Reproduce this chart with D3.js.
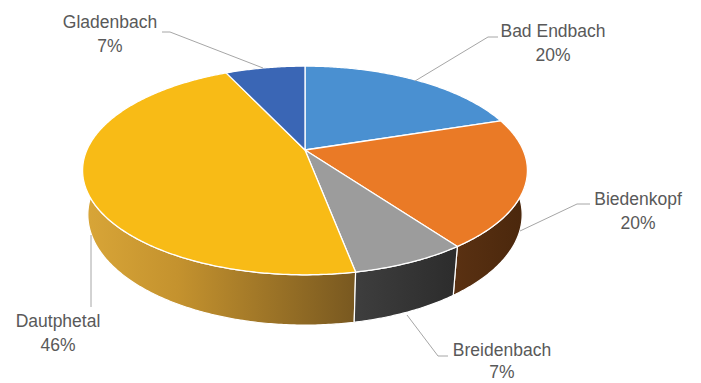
<!DOCTYPE html>
<html><head><meta charset="utf-8">
<script src="https://cdn.jsdelivr.net/npm/d3@7"></script>
<style>html,body{margin:0;padding:0;background:#fff}svg{display:block}</style>
</head><body>
<svg id="c" width="701" height="383"></svg>
<script>
// ---- data ----
const categories = ["Bad Endbach", "Biedenkopf", "Breidenbach", "Dautphetal", "Gladenbach"];
const values = [20, 20, 7, 46, 7];

// ---- styles / layout (not data) ----
const topColors  = ["#4A90D1", "#EA7A26", "#9C9C9C", "#F8BB16", "#3A66B5"];
const wallStops  = [
  [["#2E5E8C",0],["#2A5580",1]],
  [["#5A3112",0],["#4A270C",1]],
  [["#3E3E3E",0],["#2C2C2C",1]],
  [["#D9A638",0],["#C4922E",0.35],["#785820",1]],
  [["#24447A",0],["#1F3C6C",1]]
];
const labelLayout = [
  {x:553, y:37,  dy:24, line:[[498,37],[488,37],[415,81]]},
  {x:638, y:205, dy:24, line:[[590,204],[577,204],[520,231]]},
  {x:502, y:356, dy:22, line:[[448,356],[438,356],[407,315]]},
  {x:58,  y:327, dy:24, line:[[91,307],[91,235]]},
  {x:110, y:28,  dy:24, line:[[162,32],[170,32],[263,68]]}
];

// ---- 3D perspective projection of the pie plane ----
const cx = 305, cy = 150;
const alpha = Math.asin(0.46), sa = Math.sin(alpha), ca = Math.cos(alpha);
const D = 4.53, F = 988, T = 0.23;
function proj(theta, Y, r = 1) {
  const X = r * Math.sin(theta), Z = r * Math.cos(theta);
  const depth = D + Z * ca - Y * sa;
  const up = Y * ca + Z * sa;
  return [cx + F * X / depth, cy - F * up / depth];
}

const svg = d3.select("#c");
const defs = svg.append("defs");
const pie = d3.pie().sort(null).value(d => d)(values);
const total = d3.sum(values);
const pct = d3.format(".0%");

function arcPts(a0, a1, Y) {
  const n = Math.max(2, Math.ceil((a1 - a0) / 0.01));
  return d3.range(n + 1).map(i => proj(a0 + (a1 - a0) * i / n, Y));
}
const line = d3.line();

// walls (back to front)
const walls = pie.map((p, i) => ({p, i}))
  .sort((a, b) => Math.cos((a.p.startAngle + a.p.endAngle) / 2) < Math.cos((b.p.startAngle + b.p.endAngle) / 2) ? 1 : -1);
walls.forEach(({p, i}) => {
  const topE = arcPts(p.startAngle, p.endAngle, 0);
  const botE = arcPts(p.startAngle, p.endAngle, -T).reverse();
  const pts = topE.concat(botE);
  const xs = pts.map(d => d[0]);
  const g = defs.append("linearGradient").attr("id", "w" + i)
    .attr("gradientUnits", "userSpaceOnUse")
    .attr("x1", d3.min(xs)).attr("x2", d3.max(xs)).attr("y1", 0).attr("y2", 0);
  wallStops[i].forEach(s => g.append("stop").attr("offset", s[1]).attr("stop-color", s[0]));
  svg.append("path").attr("d", line(pts) + "Z")
    .attr("fill", `url(#w${i})`).attr("stroke", "#fff").attr("stroke-width", 1.2)
    .attr("stroke-linejoin", "round");
});

// top faces
pie.forEach((p, i) => {
  const pts = [proj(0, 0, 0)].concat(arcPts(p.startAngle, p.endAngle, 0));
  svg.append("path").attr("d", line(pts) + "Z")
    .attr("fill", topColors[i]).attr("stroke", "#fff").attr("stroke-width", 1.3)
    .attr("stroke-linejoin", "round");
});

// labels
const font = "'Liberation Sans', Arial, sans-serif";
pie.forEach((p, i) => {
  const L = labelLayout[i];
  svg.append("path").attr("d", line(L.line)).attr("fill", "none")
    .attr("stroke", "#A6A6A6").attr("stroke-width", 1);
  const t = svg.append("text").attr("text-anchor", "middle")
    .attr("font-family", font).attr("font-size", 17.5).attr("fill", "#595959");
  t.append("tspan").attr("x", L.x).attr("y", L.y).text(categories[i]);
  t.append("tspan").attr("x", L.x).attr("y", L.y + L.dy).text(pct(values[i] / total));
});
</script>
</body></html>
